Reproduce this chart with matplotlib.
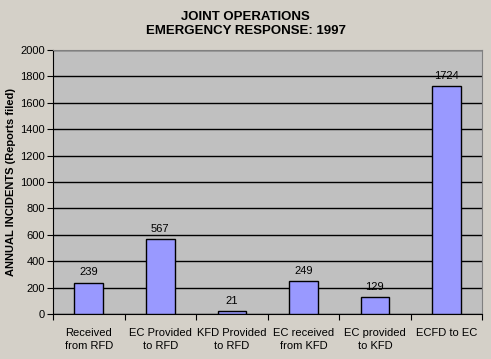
import numpy as np
import matplotlib.pyplot as plt

categories = ["Received\nfrom RFD", "EC Provided\nto RFD", "KFD Provided\nto RFD",
              "EC received\nfrom KFD", "EC provided\nto KFD", "ECFD to EC"]
incidents = [239, 567, 21, 249, 129, 1724]
yticks = [0, 200, 400, 600, 800, 1000, 1200, 1400, 1600, 1800, 2000]

plt.rcParams['font.family'] = ['Liberation Sans', 'DejaVu Sans']

fig = plt.figure(figsize=(4.91, 3.59), dpi=100, facecolor='#d4d0c8')
ax = fig.add_axes([0.108, 0.125, 0.874, 0.736], facecolor='#c0c0c0')

x = np.arange(len(categories))
ax.bar(x, incidents, width=0.4, color='#9999ff', edgecolor='black', linewidth=1, zorder=3)
for xi, v in zip(x, incidents):
    ax.text(xi, v + 40, str(v), ha='center', va='bottom', fontsize=8, zorder=4)

ax.set_xlim(-0.5, len(categories) - 0.5)
ax.set_ylim(0, 2000)
ax.set_yticks(yticks)
ax.set_yticklabels([str(t) for t in yticks], fontsize=8)
ax.yaxis.grid(True, color='black', linewidth=1)
ax.set_axisbelow(True)

# category labels sit between the boundary ticks
ax.set_xticks(np.arange(len(categories) + 1) - 0.5)
ax.set_xticklabels([])
ax.set_xticks(x, minor=True)
ax.set_xticklabels(categories, minor=True, fontsize=8, linespacing=1.4)
ax.tick_params(axis='x', which='minor', length=0, pad=10)
ax.tick_params(axis='x', which='major', length=4, direction='out', color='black')
ax.tick_params(axis='y', length=4, direction='out', color='black', pad=2)

for s in ['top', 'right']:
    ax.spines[s].set_color('#808080')
ax.spines['left'].set_color('black')
ax.spines['bottom'].set_color('black')

ax.set_ylabel("ANNUAL INCIDENTS (Reports filed)", fontsize=8, fontweight='bold', labelpad=3)
fig.suptitle("JOINT OPERATIONS\nEMERGENCY RESPONSE: 1997", fontsize=9.5, fontweight='bold',
             y=0.97, linespacing=1.2)

fig.savefig('out.png', dpi=100, facecolor=fig.get_facecolor())
